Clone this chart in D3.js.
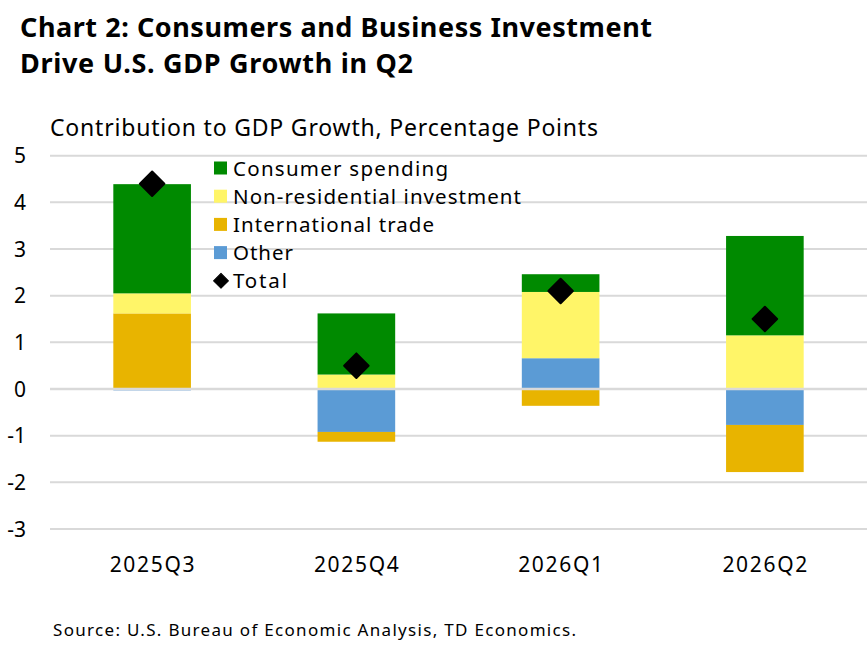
<!DOCTYPE html>
<html>
<head>
<meta charset="utf-8">
<script src="https://cdn.jsdelivr.net/npm/d3@7"></script>
<style>
  body { margin: 0; background: #fff; }
  text { font-family: "Noto Sans", "DejaVu Sans", sans-serif; fill: #000; }
</style>
</head>
<body>
<div id="chart"></div>
<script>
// values, percentage points
const quarters = ["2025Q3", "2025Q4", "2026Q1", "2026Q2"];
const consumer = [2.34, 1.31, 0.38, 2.13];
const nonres = [0.43, 0.31, 1.42, 1.15];
const trade = [1.62, -0.21, -0.36, -1.01];
const other = [-0.03, -0.92, 0.66, -0.77];
const total = [4.4, 0.5, 2.1, 1.5];
const yTicks = [-3, -2, -1, 0, 1, 2, 3, 4, 5];

const seriesNames = ["Consumer spending", "Non-residential investment", "International trade", "Other"];
const seriesColors = {
    "Consumer spending": "#008a00",
    "Non-residential investment": "#fff568",
    "International trade": "#e8b400",
    "Other": "#5b9bd5"
};

const width = 868, height = 648;

let svg = d3.select("#chart")
    .append("svg")
    .attr("width", width)
    .attr("height", height);

// rows for d3.stack
let rows = quarters.map((q, i) => ({
    quarter: q,
    "Other": other[i],
    "International trade": trade[i],
    "Non-residential investment": nonres[i],
    "Consumer spending": consumer[i],
    total: total[i]
}));

// stacking order from zero outwards
let stackKeys = ["Other", "International trade", "Non-residential investment", "Consumer spending"];
let stacked = d3.stack()
    .keys(stackKeys)
    .offset(d3.stackOffsetDiverging)(rows);

let x = d3.scaleBand()
    .domain(quarters)
    .range([50, 867])
    .paddingInner(0.62)
    .paddingOuter(0.31);

let y = d3.scaleLinear()
    .domain([-3, 5])
    .range([529, 155.7]);

// stretch a text element to the width it has in the reference
function FitWidth(sel, w) {
    sel.attr("textLength", w).attr("lengthAdjust", "spacing");
}

// title
let title = svg.append("g").attr("class", "title");
title.append("text")
    .attr("x", 20).attr("y", 36.5)
    .style("font-size", "27px").style("font-weight", "bold")
    .text("Chart 2: Consumers and Business Investment")
    .call(FitWidth, 632);
title.append("text")
    .attr("x", 20).attr("y", 73)
    .style("font-size", "27px").style("font-weight", "bold")
    .text("Drive U.S. GDP Growth in Q2")
    .call(FitWidth, 393);

svg.append("text")
    .attr("x", 50).attr("y", 136)
    .style("font-size", "23px")
    .text("Contribution to GDP Growth, Percentage Points")
    .call(FitWidth, 548);

// grid lines (except zero, drawn over bars)
svg.append("g").attr("class", "grids")
    .selectAll("line")
    .data(yTicks.filter(d => d != 0))
    .join("line")
    .attr("x1", 50).attr("x2", 867)
    .attr("y1", d => y(d)).attr("y2", d => y(d))
    .attr("stroke", "#d9d9d9")
    .attr("stroke-width", 2);

// y tick labels
svg.append("g").attr("class", "y-labels")
    .selectAll("text")
    .data(yTicks)
    .join("text")
    .attr("x", 26)
    .attr("y", d => y(d) + 7.5)
    .attr("text-anchor", "end")
    .style("font-size", "21px")
    .text(d => d);

// stacked bars
svg.append("g").attr("class", "bars")
    .selectAll("g")
    .data(stacked)
    .join("g")
    .attr("fill", s => seriesColors[s.key])
    .selectAll("rect")
    .data(s => s)
    .join("rect")
    .attr("x", d => x(d.data.quarter))
    .attr("width", x.bandwidth())
    .attr("y", d => y(Math.max(d[0], d[1])))
    .attr("height", d => Math.abs(y(d[0]) - y(d[1])));

// zero line on top of bars
svg.append("line")
    .attr("x1", 50).attr("x2", 867)
    .attr("y1", y(0)).attr("y2", y(0))
    .attr("stroke", "#d9d9d9")
    .attr("stroke-width", 2.5);

// total markers
let diamond = d3.symbol().type(d3.symbolSquare).size(300);
svg.append("g").attr("class", "totals")
    .selectAll("path")
    .data(rows)
    .join("path")
    .attr("d", diamond)
    .attr("transform", d => `translate(${x(d.quarter) + x.bandwidth() / 2}, ${y(d.total)}) rotate(45)`)
    .attr("fill", "#000")
    .attr("stroke", "#000")
    .attr("stroke-width", 2)
    .attr("stroke-linejoin", "round");

// x labels
svg.append("g").attr("class", "x-labels")
    .selectAll("text")
    .data(quarters)
    .join("text")
    .attr("x", d => x(d) + x.bandwidth() / 2)
    .attr("y", 572)
    .attr("text-anchor", "middle")
    .style("font-size", "21px")
    .text(d => d)
    .call(FitWidth, 85);

// legend
let legendWidths = [215, 288, 201, 60, 54];
let legend = svg.append("g").attr("class", "legend")
    .attr("transform", "translate(214, 168)");
let items = legend.selectAll("g")
    .data(seriesNames.concat(["Total"]))
    .join("g")
    .attr("transform", (d, i) => `translate(0, ${i * 28.2})`);
items.filter(d => d != "Total").append("rect")
    .attr("x", 0).attr("y", -6.5)
    .attr("width", 13).attr("height", 13)
    .attr("fill", d => seriesColors[d]);
items.filter(d => d == "Total").append("path")
    .attr("d", d3.symbol().type(d3.symbolSquare).size(110))
    .attr("transform", "translate(7, 0) rotate(45)")
    .attr("fill", "#000")
    .attr("stroke", "#000")
    .attr("stroke-linejoin", "round");
items.append("text")
    .attr("x", 19).attr("y", 7.5)
    .style("font-size", "20.5px")
    .text(d => d)
    .each(function (d, i) {
        d3.select(this).call(FitWidth, legendWidths[i]);
    });

svg.append("text")
    .attr("x", 53).attr("y", 636)
    .style("font-size", "17px")
    .text("Source: U.S. Bureau of Economic Analysis, TD Economics.")
    .call(FitWidth, 523);
</script>
</body>
</html>
